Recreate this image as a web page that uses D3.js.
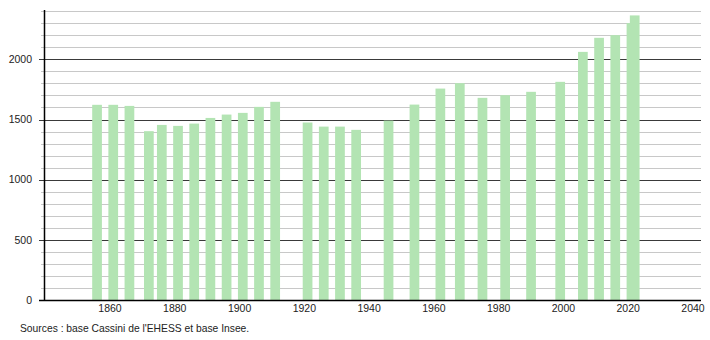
<!DOCTYPE html>
<html>
<head>
<meta charset="utf-8">
<script src="https://cdn.jsdelivr.net/npm/d3@7"></script>
<style>
    body { margin: 0; background: #fff; }
    svg text { font-family: "Liberation Sans", Arial, sans-serif; }
</style>
</head>
<body>
<div class="chart"></div>
<script>
// census years and population
var years = [1856, 1861, 1866, 1872, 1876, 1881, 1886, 1891, 1896, 1901, 1906, 1911,
    1921, 1926, 1931, 1936, 1946, 1954, 1962, 1968, 1975, 1982, 1990, 1999,
    2006, 2011, 2016, 2021, 2022];
var population = [1622, 1622, 1613, 1403, 1455, 1447, 1466, 1513, 1541, 1555, 1605, 1647,
    1475, 1441, 1441, 1414, 1491, 1624, 1757, 1802, 1680, 1702, 1730, 1813,
    2062, 2179, 2201, 2301, 2365];
var xTicks = [1860, 1880, 1900, 1920, 1940, 1960, 1980, 2000, 2020, 2040];
var yTicks = [0, 500, 1000, 1500, 2000];
var sourceText = "Sources : base Cassini de l'EHESS et base Insee.";

function init() {
    var w = 710;
    var h = 340;
    var left = 44, right = 701, top = 10, bottom = 300;

    var svg = d3.select(".chart")
        .append("svg")
        .attr("width", w)
        .attr("height", h);

    var xScale = d3.scaleLinear()
        .domain([1860, 2040])
        .range([110, 693]);

    var yScale = d3.scaleLinear()
        .domain([0, 2410])
        .range([bottom, top]);

    // every 100 inhabitants a light line, every 500 a dark one
    var minor = d3.range(0, 2401, 100).filter(function(d) { return d % 500 !== 0; });

    svg.append("g")
        .selectAll("line")
        .data(minor)
        .enter().append("line")
        .attr("x1", left - 3)
        .attr("x2", right)
        .attr("y1", function(d) { return Math.round(yScale(d)) + 0.5; })
        .attr("y2", function(d) { return Math.round(yScale(d)) + 0.5; })
        .attr("stroke", "#c8c8c8")
        .attr("stroke-width", 1);

    svg.append("g")
        .selectAll("line")
        .data(yTicks.slice(1))
        .enter().append("line")
        .attr("x1", left - 5)
        .attr("x2", right)
        .attr("y1", function(d) { return Math.round(yScale(d)) + 0.5; })
        .attr("y2", function(d) { return Math.round(yScale(d)) + 0.5; })
        .attr("stroke", "#3a3a3a")
        .attr("stroke-width", 1);

    // bars, 3 years wide
    svg.append("g")
        .selectAll("rect")
        .data(years)
        .enter().append("rect")
        .attr("x", function(d) { return xScale(d - 1.5); })
        .attr("width", function(d) { return xScale(d + 1.5) - xScale(d - 1.5); })
        .attr("y", function(d, i) { return yScale(population[i]); })
        .attr("height", function(d, i) { return bottom - yScale(population[i]); })
        .attr("fill", "#b3e4b3");

    // axes
    svg.append("line")
        .attr("x1", left + 0.5).attr("x2", left + 0.5)
        .attr("y1", top).attr("y2", bottom)
        .attr("stroke", "#000").attr("stroke-width", 1.5);

    svg.append("line")
        .attr("x1", left - 5).attr("x2", right)
        .attr("y1", bottom + 0.5).attr("y2", bottom + 0.5)
        .attr("stroke", "#000").attr("stroke-width", 1.5);

    svg.append("g")
        .selectAll("text")
        .data(yTicks)
        .enter().append("text")
        .attr("x", 32)
        .attr("y", function(d) { return yScale(d); })
        .attr("dy", "0.35em")
        .attr("text-anchor", "end")
        .style("font-size", "10.5px")
        .attr("fill", "#222")
        .text(function(d) { return d; });

    svg.append("g")
        .selectAll("text")
        .data(xTicks)
        .enter().append("text")
        .attr("x", function(d) { return xScale(d); })
        .attr("y", 312)
        .attr("text-anchor", "middle")
        .style("font-size", "10.5px")
        .attr("fill", "#222")
        .text(function(d) { return d; });

    svg.append("text")
        .attr("x", 20)
        .attr("y", 332)
        .style("font-size", "10.3px")
        .attr("fill", "#222")
        .text(sourceText);
}

window.onload = init;
</script>
</body>
</html>
